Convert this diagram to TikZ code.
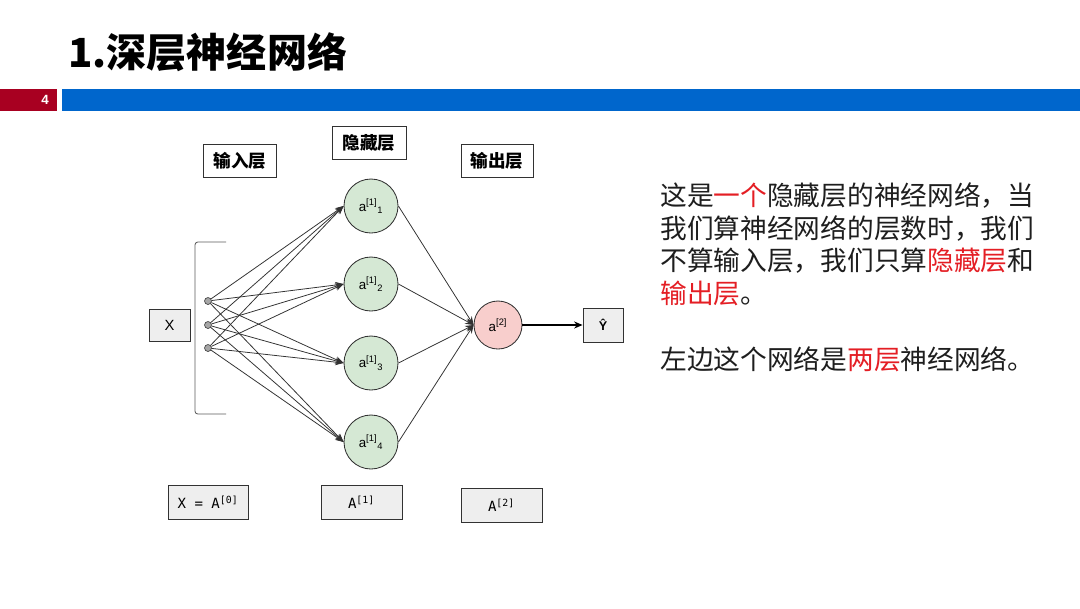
\documentclass[tikz,border=0pt]{standalone}
\usepackage{fontspec}
\setmainfont{Liberation Sans}
\newfontfamily\cjk{Noto Sans CJK SC}
\newfontfamily\monof{DejaVu Sans Mono}
\usetikzlibrary{arrows.meta}
\definecolor{barred}{RGB}{168,0,33}
\definecolor{barblue}{RGB}{0,102,204}
\definecolor{txtred}{RGB}{228,30,36}
\definecolor{txtblk}{RGB}{30,30,30}
\definecolor{greenfill}{RGB}{213,232,212}
\definecolor{pinkfill}{RGB}{248,206,204}
\definecolor{boxfill}{RGB}{238,238,238}
\definecolor{edgegray}{RGB}{50,50,50}
\newdimen\pxu \pxu=0.025cm
\tikzset{
  hdrbox/.style={draw=edgegray, fill=white, line width=0.6pt, inner sep=0pt, font=\cjk\bfseries\fontsize{12.5}{14}\selectfont},
  graybox/.style={draw=edgegray, fill=boxfill, line width=0.6pt, inner sep=0pt},
  hidcirc/.style={circle, draw=edgegray, fill=greenfill, line width=0.6pt, minimum size=54\pxu, inner sep=0pt, font=\fontsize{9.5}{11}\selectfont},
  outcirc/.style={circle, draw=edgegray, fill=pinkfill, line width=0.6pt, minimum size=48\pxu, inner sep=0pt, font=\fontsize{9.5}{11}\selectfont},
  indot/.style={circle, draw=edgegray, fill=gray!70, line width=0.4pt, minimum size=7\pxu, inner sep=0pt},
  arr/.style={draw=edgegray, line width=0.55pt, -{Stealth[length=6pt,width=4.5pt]}},
  bodytxt/.style={anchor=west, inner sep=0pt, text=txtblk, font=\cjk\fontsize{19}{23}\selectfont},
}
\begin{document}
\begin{tikzpicture}[x=0.025cm, y=-0.025cm]
\useasboundingbox (0,0) rectangle (1080,608);
\fill[white] (0,0) rectangle (1080,608);
% header
\node[anchor=west, inner sep=0pt, font=\cjk\bfseries\fontsize{28.5}{30}\selectfont] (title) at (68,52) {1.深层神经网络};
\fill[barred] (0,89) rectangle (57,111);
\fill[barblue] (62,89) rectangle (1080,111);
\node[text=white, font=\bfseries\fontsize{9.5}{10}\selectfont, inner sep=0pt] (pnum) at (45,100) {4};
% layer labels
\node[hdrbox, minimum width=73\pxu, minimum height=33\pxu] (linp) at (240,161) {输入层};
\node[hdrbox, minimum width=74\pxu, minimum height=33\pxu] (lhid) at (369,142.5) {隐藏层};
\node[hdrbox, minimum width=72\pxu, minimum height=33\pxu] (lout) at (497,160.5) {输出层};
% input
\node[graybox, minimum width=41\pxu, minimum height=32\pxu, font=\fontsize{10.5}{12}\selectfont] (xbox) at (169.5,325) {X};
\draw[edgegray!80, line width=0.6pt, rounded corners=2pt] (226,242) -- (195,242) -- (195,414) -- (226,414);
\node[indot] (d1) at (208,301) {};
\node[indot] (d2) at (208,325) {};
\node[indot] (d3) at (208,348) {};
% hidden
\node[hidcirc] (h1) at (371,206) {a\textsuperscript{[1]}\textsubscript{1}};
\node[hidcirc] (h2) at (371,284) {a\textsuperscript{[1]}\textsubscript{2}};
\node[hidcirc] (h3) at (371,363) {a\textsuperscript{[1]}\textsubscript{3}};
\node[hidcirc] (h4) at (371,442) {a\textsuperscript{[1]}\textsubscript{4}};
% output
\node[outcirc] (o) at (498,325) {a\textsuperscript{[2]}};
\node[graybox, minimum width=40\pxu, minimum height=34\pxu, font=\bfseries\fontsize{9}{10}\selectfont] (yhat) at (603,325) {Ŷ};
% edges
\foreach \d in {d1,d2,d3}{
  \foreach \h in {h1,h2,h3,h4}{
    \draw[arr] (\d) -- (\h.west);
  }
}
\foreach \h in {h1,h2,h3,h4}{
  \draw[arr] (\h.east) -- (o.west);
}
\draw[draw=black, line width=1.1pt, -{Stealth[length=6pt,width=5pt]}] (o.east) -- (yhat.west);
% bottom boxes
\node[graybox, minimum width=80\pxu, minimum height=34\pxu, font=\monof\fontsize{10}{11}\selectfont] (b0) at (208,502) {X = A\textsuperscript{[0]}};
\node[graybox, minimum width=81\pxu, minimum height=34\pxu, font=\monof\fontsize{10}{11}\selectfont] (b1) at (361.5,502) {A\textsuperscript{[1]}};
\node[graybox, minimum width=81\pxu, minimum height=34\pxu, font=\monof\fontsize{10}{11}\selectfont] (b2) at (501.5,505) {A\textsuperscript{[2]}};
% right text
\node[bodytxt] (t1) at (660,196) {这是\textcolor{txtred}{一个}隐藏层的神经网络，当};
\node[bodytxt] (t2) at (660,228.5) {我们算神经网络的层数时，我们};
\node[bodytxt] (t3) at (660,261) {不算输入层，我们只算\textcolor{txtred}{隐藏层}和};
\node[bodytxt] (t4) at (660,293.5) {\textcolor{txtred}{输出层}。};
\node[bodytxt] (t5) at (660,359) {左边这个网络是\textcolor{txtred}{两层}神经网络。};
\end{tikzpicture}
\end{document}
